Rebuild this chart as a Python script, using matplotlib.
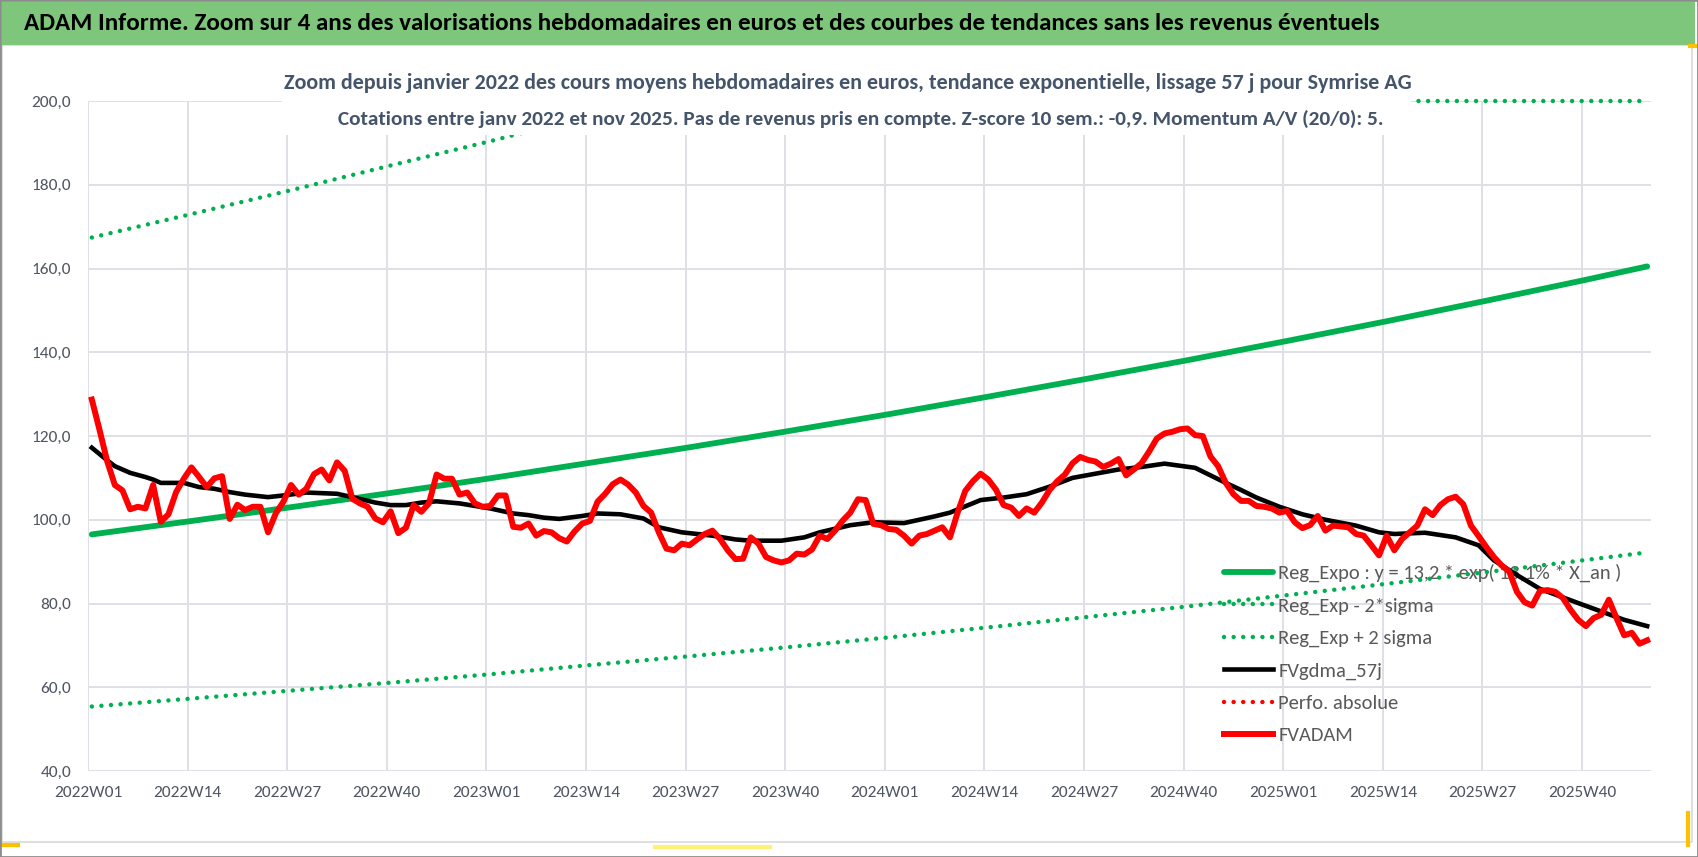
import matplotlib
matplotlib.use('Agg')
import matplotlib.pyplot as plt
from matplotlib.patches import Rectangle
from matplotlib.lines import Line2D

# ---- data ----
title = ("ADAM Informe. Zoom sur 4 ans des valorisations hebdomadaires en euros "
         "et des courbes de tendances sans les revenus éventuels")
subtitle1 = ("Zoom depuis janvier 2022 des cours moyens hebdomadaires en euros, "
             "tendance exponentielle, lissage 57 j pour Symrise AG")
subtitle2 = ("Cotations entre janv 2022 et nov 2025. Pas de revenus pris en compte. "
             "Z-score 10 sem.: -0,9. Momentum A/V (20/0): 5.")

week_labels = ["2022W01", "2022W14", "2022W27", "2022W40",
               "2023W01", "2023W14", "2023W27", "2023W40",
               "2024W01", "2024W14", "2024W27", "2024W40",
               "2025W01", "2025W14", "2025W27", "2025W40"]

# weekly FVADAM values, 2022W01 .. 2025W48
fvadam_2022 = [128.7, 121.5, 114.0, 108.3, 107.0, 102.5, 103.1, 102.7, 108.3, 99.5,
               101.3, 106.6, 109.8, 112.5, 110.2, 107.8, 109.9, 110.4, 100.2, 103.6,
               102.3, 103.1, 103.1, 97.0, 101.5, 104.3, 108.3, 106.0, 107.4, 110.9,
               112.0, 109.4, 113.7, 111.7, 105.0, 103.9, 103.1, 100.3, 99.4, 102.0,
               96.8, 98.1, 103.5, 101.9, 103.9, 110.8, 109.8, 109.8, 106.0, 106.5,
               103.9, 103.1]
fvadam_2023 = [103.3, 105.8, 105.8, 98.3, 98.1, 99.1, 96.2, 97.3, 97.0, 95.6,
               94.8, 97.2, 99.1, 99.7, 104.3, 106.2, 108.5, 109.6, 108.4, 106.5,
               103.3, 101.7, 97.0, 93.1, 92.7, 94.3, 93.9, 95.3, 96.6, 97.4,
               95.4, 92.7, 90.6, 90.7, 95.8, 94.3, 91.1, 90.3, 89.8, 90.3,
               91.9, 91.7, 92.9, 96.2, 95.4, 97.4, 99.8, 101.7, 104.9, 104.7,
               99.0, 98.7]
fvadam_2024 = [97.8, 97.6, 96.2, 94.3, 96.2, 96.6, 97.4, 98.2, 95.8, 101.7,
               106.9, 109.2, 111.0, 109.6, 107.2, 103.5, 102.9, 100.9, 102.7, 101.7,
               104.1, 107.1, 109.2, 110.8, 113.5, 115.0, 114.3, 113.9, 112.6, 113.4,
               114.5, 110.6, 112.0, 113.5, 116.3, 119.4, 120.6, 121.0, 121.6, 121.8,
               120.2, 120.0, 115.1, 112.8, 108.8, 106.1, 104.5, 104.5, 103.3, 103.1,
               102.7, 101.7]
fvadam_2025 = [102.1, 99.4, 98.0, 98.7, 100.9, 97.4, 98.6, 98.4, 98.2, 96.6,
               96.2, 93.9, 91.5, 96.2, 92.7, 95.4, 97.0, 98.6, 102.5, 101.1,
               103.5, 104.9, 105.5, 103.7, 98.6, 96.1, 93.5, 91.1, 89.1, 87.6,
               82.8, 80.3, 79.5, 83.0, 83.2, 82.8, 81.3, 78.5, 76.1, 74.6,
               76.5, 77.3, 80.9, 76.5, 72.4, 73.0, 70.4, 71.2]
fvadam = fvadam_2022 + fvadam_2023 + fvadam_2024 + fvadam_2025

# FVgdma_57j (smoothed), read at these week indices
gdma_week = [0, 2, 3, 5, 7, 8, 9, 12, 14, 16, 18, 20, 23, 25, 28, 32, 34, 37, 39, 41,
             43, 45, 48, 52, 55, 57, 59, 61, 64, 66, 69, 72, 74, 77, 81, 84, 86, 90, 93, 95,
             99, 102, 106, 110, 112, 116, 119, 122, 125, 128, 131, 134, 137, 140, 144, 148,
             150, 152, 155, 158, 161, 165, 168, 170, 174, 178, 181, 183, 186, 189, 194, 197,
             200, 203]
gdma_val = [117.2, 114.2, 112.8, 111.2, 110.2, 109.6, 108.8, 108.8, 107.8, 107.4,
            106.6, 106.0, 105.4, 105.8, 106.5, 106.2, 105.4, 104.1, 103.5, 103.5,
            104.1, 104.4, 103.9, 102.7, 101.5, 101.1, 100.5, 100.2, 100.9, 101.5,
            101.3, 100.3, 98.2, 97.0, 96.2, 95.3, 95.0, 95.0, 95.8, 97.0,
            98.7, 99.4, 99.2, 100.8, 101.7, 104.7, 105.3, 106.1, 107.9, 110.0,
            111.0, 112.0, 112.6, 113.4, 112.4, 108.8, 107.1, 105.3, 103.1, 101.3,
            100.0, 98.6, 97.0, 96.6, 96.9, 95.8, 93.9, 90.3, 86.8, 83.5,
            80.1, 78.1, 76.1, 74.6]

# exponential trend and +/- 2 sigma bands, read every 13 weeks
reg_week = [0, 13, 26, 39, 52, 65, 78, 91, 104, 117, 130, 143, 156, 169, 182, 195, 203]
reg_val = [96.5, 99.7, 103.0, 106.4, 109.9, 113.6, 117.3, 121.2, 125.2, 129.4,
           133.7, 138.1, 142.7, 147.4, 152.3, 157.3, 160.5]
low_val = [55.4, 57.3, 59.2, 61.1, 63.1, 65.3, 67.4, 69.6, 71.9, 74.3,
           76.8, 79.3, 82.0, 84.7, 87.5, 90.4, 92.2]
up_week = [0, 13, 26, 39, 52, 65, 70, 203]
up_val = [167.4, 173.0, 178.7, 184.6, 190.4, 196.6, 200.0, 200.0]

names = ["Reg_Expo : y = 13,2 * exp( 13,1% * X_an )", "Reg_Exp - 2*sigma",
         "Reg_Exp + 2 sigma", "FVgdma_57j", "Perfo. absolue", "FVADAM"]

plt.rcParams['font.family'] = ['Carlito', 'DejaVu Sans']

W, H = 1698, 857
fig = plt.figure(figsize=(W / 100, H / 100), dpi=100)


def fx(px):
    return px / W


def fy(py):
    return 1 - py / H


# frame + header band
fig.add_artist(Rectangle((fx(2), fy(842)), fx(1690), (842 - 45) / H, transform=fig.transFigure,
                         facecolor='white', edgecolor='#d9d9d9', lw=1.2, zorder=0))
fig.add_artist(Rectangle((fx(2), fy(45)), fx(1693), 43 / H, transform=fig.transFigure,
                         facecolor='#7dc67b', edgecolor='none', zorder=0))
fig.add_artist(Rectangle((0, 0), 1, 1, transform=fig.transFigure, fill=False,
                         edgecolor='#8c8c8c', lw=2, zorder=10))
for xs, ys, c in [((0, 18), (845, 845), '#ffc000'), ((655, 770), (847, 847), '#fff176'),
                  ((1688, 1688), (813, 845), '#ffc000'), ((1690, 1698), (46, 46), '#ffc000')]:
    fig.add_artist(Line2D([fx(x) for x in xs], [fy(y) for y in ys], transform=fig.transFigure,
                          color=c, lw=3, zorder=9))

ax = fig.add_axes([fx(88), fy(771), (1651 - 88) / W, (771 - 101) / H])
ax.set_zorder(1)
ax.patch.set_alpha(0)

green = '#00b050'
dots = (0, (0.01, 2.15))
x_all = list(range(len(fvadam)))
ax.plot(reg_week, reg_val, color=green, lw=4.2, solid_capstyle='round', zorder=2, label=names[0])
ax.plot(reg_week, low_val, color=green, lw=3.2, linestyle=dots, dash_capstyle='round',
        zorder=2, label=names[1])
ax.plot(up_week, up_val, color=green, lw=3.2, linestyle=dots, dash_capstyle='round',
        zorder=2, label=names[2], clip_on=False)
ax.plot(gdma_week, gdma_val, color='black', lw=3.3, zorder=3, label=names[3])
ax.plot([], [], color='red', lw=3.2, linestyle=dots, dash_capstyle='round', label=names[4])
ax.plot(x_all, fvadam, color='#ff0000', lw=4.3, solid_joinstyle='round', zorder=4, label=names[5])

ax.set_xlim(-0.5, len(fvadam) - 0.5)
ax.set_ylim(40, 200)
ax.set_xticks([13 * k - 0.5 for k in range(len(week_labels))])
ax.set_xticklabels(week_labels)
yt = list(range(40, 201, 20))
ax.set_yticks(yt)
ax.set_yticklabels([f"{v:.1f}".replace('.', ',') for v in yt])
ax.tick_params(length=0, labelsize=12.5, labelcolor='#4f5563')
ax.tick_params(axis='x', pad=11)
ax.tick_params(axis='y', pad=12)
ax.grid(True, color='#dfe0e5', lw=1.4)
ax.set_axisbelow(True)
for s in ax.spines.values():
    s.set_visible(False)

leg = ax.legend(loc='upper left', bbox_to_anchor=((1224 - 88) / 1563, (771 - 564) / 670),
                frameon=False, fontsize=14.8, handlelength=2.4, handletextpad=0.25,
                labelspacing=0.72, borderpad=0, borderaxespad=0)
for t in leg.get_texts():
    t.set_color('#595959')
leg.set_zorder(1)

# subtitle box covering the top of the plot
fig.add_artist(Rectangle((fx(282), fy(135)), (1411 - 282) / W, (135 - 52) / H,
                         transform=fig.transFigure, facecolor='white', edgecolor='none', zorder=3))

t0 = fig.text(fx(24), fy(24), title, ha='left', va='center', fontsize=20, fontweight='bold',
              color='black', zorder=11)
t1 = fig.text(fx(848), fy(83), subtitle1, ha='center', va='center', fontsize=15,
              fontweight='bold', color='#44546a', zorder=4)
t2 = fig.text(fx(861), fy(119), subtitle2, ha='center', va='center', fontsize=15,
              fontweight='bold', color='#44546a', zorder=4)

renderer = fig.canvas.get_renderer()
for t, target in [(t0, 1357), (t1, 1129), (t2, 1050)]:
    w = t.get_window_extent(renderer=renderer).width
    t.set_fontsize(t.get_fontsize() * target / w)

fig.savefig('out.png', dpi=100)
